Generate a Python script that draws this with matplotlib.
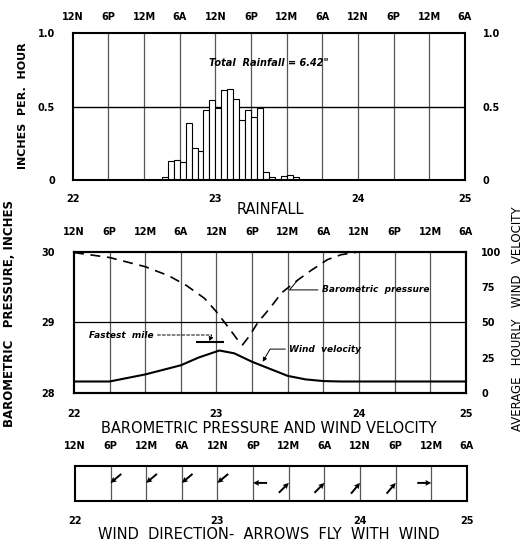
import numpy as np
import matplotlib
matplotlib.use('Agg')
import matplotlib.pyplot as plt

plt.rcParams['font.family'] = 'DejaVu Sans'
plt.rcParams['font.weight'] = 'bold'

# time axis: hours from 12N of the 22nd, one grid line every 6 hours
grid_hours = np.arange(0, 67, 6)
time_labels = ['12N', '6P', '12M', '6A', '12N', '6P', '12M', '6A', '12N', '6P', '12M', '6A']
day_hours = [0, 24, 48, 66]
day_labels = ['22', '23', '24', '25']

# hourly rainfall, inches per hour (bar starts at hour)
rain_hours = list(range(15, 38))
rain_vals = [0.02, 0.13, 0.14, 0.125, 0.39, 0.22, 0.20, 0.48, 0.545, 0.49, 0.61, 0.62,
             0.55, 0.41, 0.48, 0.43, 0.49, 0.055, 0.02, 0.0, 0.025, 0.035, 0.02]

# barometric pressure, inches
press_hours = [0, 6, 12, 16, 19, 22, 24, 26, 27.5, 28.4, 29.5, 31, 33, 35, 37.7, 40, 42.7, 45, 48]
press_vals = [29.99, 29.92, 29.79, 29.66, 29.52, 29.34, 29.15, 28.93, 28.76, 28.68, 28.80,
              29.00, 29.20, 29.42, 29.60, 29.74, 29.89, 29.96, 30.0]

# average hourly wind velocity, mph
wind_hours = [0, 6, 12, 18, 21, 24.5, 27, 30, 33, 36, 39, 42, 45, 66]
wind_vals = [8, 8, 13, 19.5, 25, 30, 28, 22, 17, 12, 9.5, 8.3, 8, 8]
fastest_mile = 36

# wind direction: time of observation and direction the arrow points (deg, math)
dir_hours = [6, 12, 18, 24, 30, 36, 42, 48, 54, 60]
dir_angles = [220, 220, 220, 220, 180, 45, 45, 50, 50, 0]

fig = plt.figure(figsize=(5.24, 5.44), dpi=100)
ax1 = fig.add_axes([0.139, 0.669, 0.748, 0.270])
ax2 = fig.add_axes([0.141, 0.278, 0.748, 0.259])
ax3 = fig.add_axes([0.143, 0.079, 0.748, 0.064])


def time_axis(ax, top_pad, bottom_pad):
    ax.set_xlim(0, 66)
    ax.set_xticks(grid_hours)
    ax.set_xticklabels(time_labels)
    ax.xaxis.tick_top()
    ax.tick_params(axis='x', length=0, pad=top_pad, labelsize=7)
    sec = ax.secondary_xaxis('bottom')
    sec.set_xticks(day_hours, day_labels)
    sec.tick_params(length=0, pad=bottom_pad, labelsize=7)
    sec.spines['bottom'].set_visible(False)
    for h in grid_hours[1:-1]:
        ax.axvline(h, color='#555555', lw=0.9, zorder=0)
    for s in ax.spines.values():
        s.set_linewidth(1.5)


# rainfall
time_axis(ax1, 8, 10)
ax1.bar(rain_hours, rain_vals, width=1, align='edge', facecolor='white',
        edgecolor='black', lw=0.8, zorder=2)
ax1.axhline(0.5, color='black', lw=1, zorder=1)
ax1.set_ylim(0, 1.0)
ax1.set_yticks([0, 0.5, 1.0], ['0', '0.5', '1.0'])
ax1.tick_params(axis='y', length=0, pad=13, labelsize=7, right=True, labelright=True)
ax1.text(33, 0.80, 'Total  Rainfall = 6.42"', ha='center', va='center',
         style='italic', fontsize=7)
fig.text(0.044, 0.805, 'INCHES  PER.  HOUR', rotation=90, ha='center', va='center',
         fontsize=8)
fig.text(0.516, 0.614, 'RAINFALL', ha='center', va='center', fontsize=10.5, weight='normal')

# pressure and wind velocity
time_axis(ax2, 11, 12)
ax2.axhline(29, color='black', lw=0.9, zorder=1)
ax2.plot(press_hours, press_vals, color='black', lw=1.2, dashes=(6, 4))
ax2.set_ylim(28, 30)
ax2.set_yticks([28, 29, 30], ['28', '29', '30'])
ax2.tick_params(axis='y', length=0, pad=14, labelsize=7)

ax2r = ax2.twinx()
ax2r.set_ylim(0, 100)
ax2r.set_yticks([0, 25, 50, 75, 100], ['0', '25', '50', '75', '100'])
ax2r.tick_params(axis='y', length=0, pad=11, labelsize=7)
for s in ax2r.spines.values():
    s.set_linewidth(1.5)
ax2r.plot(wind_hours, wind_vals, color='black', lw=1.5)
ax2r.hlines(fastest_mile, 20.5, 25.3, color='black', lw=1.5)

ax2r.annotate('Fastest  mile', xy=(22.8, fastest_mile + 0.5), xytext=(2.5, 41),
              ha='left', va='center', style='italic', fontsize=6.5,
              arrowprops=dict(arrowstyle='-|>', lw=0.7, ls=(0, (3, 2)), color='black',
                              shrinkA=1, shrinkB=0, mutation_scale=6,
                              connectionstyle='angle,angleA=0,angleB=70,rad=0'))
ax2r.annotate('Wind  velocity', xy=(31.8, 22), xytext=(36.3, 31),
              ha='left', va='center', style='italic', fontsize=6.5,
              arrowprops=dict(arrowstyle='-|>', lw=0.7, color='black',
                              shrinkA=1, shrinkB=0, mutation_scale=6,
                              connectionstyle='angle,angleA=0,angleB=60,rad=0'))
ax2.annotate('Barometric  pressure', xy=(37.7, 29.6), xytext=(41.8, 29.46),
             ha='left', va='center', style='italic', fontsize=6.5,
             arrowprops=dict(arrowstyle='-', lw=0.7, color='black',
                             shrinkA=1, shrinkB=0,
                             connectionstyle='angle,angleA=0,angleB=50,rad=0'))
fig.text(0.513, 0.213, 'BAROMETRIC PRESSURE AND WIND VELOCITY', ha='center', va='center',
         fontsize=10.5, weight='normal')
fig.text(0.019, 0.423, 'BAROMETRIC   PRESSURE, INCHES', rotation=90, ha='center',
         va='center', fontsize=8.5)
fig.text(0.988, 0.415, 'AVERAGE   HOURLY   WIND   VELOCITY', rotation=90, ha='center',
         va='center', fontsize=8.5, weight='normal')

# wind direction
time_axis(ax3, 11, 11)
ax3.set_ylim(0, 1)
ax3.set_yticks([])
rad = np.deg2rad(dir_angles)
ax3.quiver(dir_hours, [0.52] * len(dir_hours), np.cos(rad), np.sin(rad),
           pivot='tip', angles='uv', scale_units='inches', scale=1 / 0.14,
           width=0.005, headwidth=3, headlength=3, headaxislength=2.7, color='black')
fig.text(0.513, 0.017, 'WIND  DIRECTION-  ARROWS  FLY  WITH  WIND', ha='center', va='center',
         fontsize=10.5, weight='normal')

fig.savefig('out.png', dpi=100, facecolor='white')
